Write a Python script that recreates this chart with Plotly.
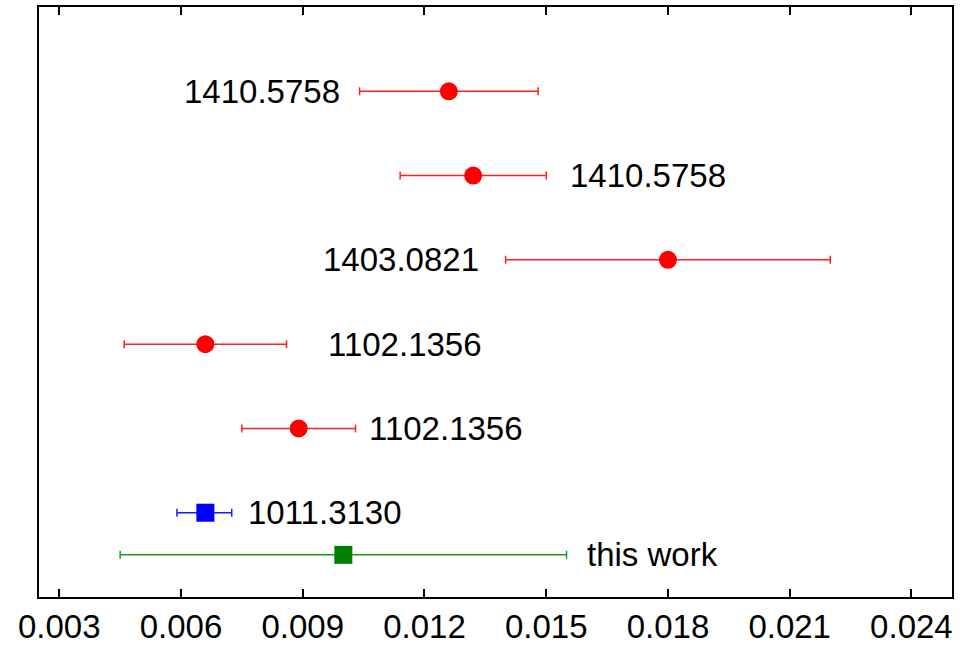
import plotly.graph_objects as go

# data
labels = ["1410.5758", "1410.5758", "1403.0821", "1102.1356", "1102.1356", "1011.3130", "this work"]
values = [0.0126, 0.0132, 0.0180, 0.0066, 0.0089, 0.0066, 0.0100]
err_plus = [0.0022, 0.0018, 0.0040, 0.0020, 0.0014, 0.00065, 0.0055]
err_minus = [0.0022, 0.0018, 0.0040, 0.0020, 0.0014, 0.00070, 0.0055]
rows = [7, 6, 5, 4, 3, 2, 1.5]
groups = ["red", "red", "red", "red", "red", "blue", "green"]
label_side = ["left", "right", "left", "right", "right", "right", "right"]
label_gap = [18, 22, 25, 39, 11, 14, 18]
x_ticks = [0.003, 0.006, 0.009, 0.012, 0.015, 0.018, 0.021, 0.024]
tick_text = ["0.003", "0.006", "0.009", "0.012", "0.015", "0.018", "0.021", "0.024"]

styles = {
    "red": dict(symbol="circle", mcolor="#ff0000", ecolor="#ff2020"),
    "blue": dict(symbol="square", mcolor="#0000ff", ecolor="#1a1aff"),
    "green": dict(symbol="square", mcolor="#007f00", ecolor="#1e9a1e"),
}

FONT = "Liberation Sans, Arial, Helvetica, sans-serif"

fig = go.Figure()
for g in ["red", "blue", "green"]:
    idx = [i for i, gg in enumerate(groups) if gg == g]
    st = styles[g]
    fig.add_trace(go.Scatter(
        x=[values[i] for i in idx],
        y=[rows[i] for i in idx],
        mode="markers",
        marker=dict(symbol=st["symbol"], size=18, color=st["mcolor"],
                    line=dict(width=0)),
        error_x=dict(type="data", symmetric=False,
                     array=[err_plus[i] for i in idx],
                     arrayminus=[err_minus[i] for i in idx],
                     color=st["ecolor"], thickness=1.5, width=4),
        showlegend=False,
    ))

for i, lab in enumerate(labels):
    if label_side[i] == "left":
        xpos = values[i] - err_minus[i]
        anchor = "right"
        shift = -label_gap[i]
    else:
        xpos = values[i] + err_plus[i]
        anchor = "left"
        shift = label_gap[i]
    fig.add_annotation(x=xpos, y=rows[i], text=lab, showarrow=False,
                       xanchor=anchor, yanchor="middle", xshift=shift,
                       font=dict(family=FONT, size=33, color="black"))

fig.update_layout(
    width=974, height=645,
    margin=dict(l=39, r=22, t=7, b=48),
    paper_bgcolor="white", plot_bgcolor="white",
    font=dict(family=FONT, size=33, color="black"),
)
fig.update_xaxes(range=[0.0025, 0.025], tickvals=x_ticks, ticktext=tick_text,
                 ticks="inside", ticklen=8, tickwidth=1.5, tickcolor="black",
                 showline=True, linecolor="black", linewidth=1.5, mirror="ticks",
                 showgrid=False, zeroline=False, automargin=False,
                 tickfont=dict(family=FONT, size=33, color="black"))
fig.update_yaxes(range=[1, 8], showticklabels=False, ticks="",
                 showline=True, linecolor="black", linewidth=1.5, mirror=True,
                 showgrid=False, zeroline=False, automargin=False)

fig.write_html("out.html")
